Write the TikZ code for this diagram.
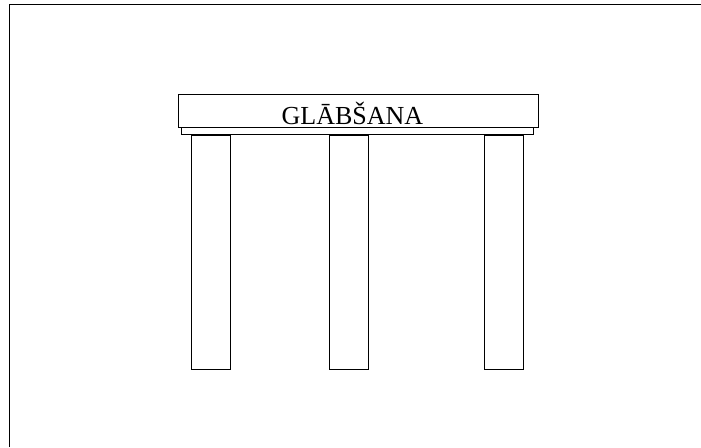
\documentclass[tikz,border=0pt]{standalone}
\usepackage{fontspec}
\setmainfont{Liberation Serif}
\usetikzlibrary{positioning}

\begin{document}
\begin{tikzpicture}[
  x=1pt, y=-1pt,
  frameline/.style={draw, line width=0.9pt},
  beam/.style={draw, line width=0.8pt, inner sep=0pt, minimum width=360pt, minimum height=33.5pt},
  capbar/.style={draw, line width=0.8pt, inner sep=0pt, minimum width=351.5pt, minimum height=7pt},
  pillar/.style={draw, line width=0.8pt, inner sep=0pt, minimum width=39pt, minimum height=234.5pt, anchor=north}
  ]
  \useasboundingbox (0,0) rectangle (701,447);
  % frame
  \coordinate (fb) at (9.5,447);
  \coordinate (ftl) at (9.5,4.5);
  \coordinate (fr) at (701,4.5);
  \draw[frameline] (fb) -- (ftl) -- (fr);
  % beam and bar
  \node[beam] (beam) at (358.3,111) {};
  \node[capbar] (bar) at (357.5,131.3) {};
  \node[font=\fontsize{26}{26}\selectfont, anchor=base, inner sep=0pt] (title) at (352.5,124) {GLĀBŠANA};
  % pillars
  \node[pillar] (colA) at (210.5,134.8) {};
  \node[pillar] (colB) at (348.5,134.8) {};
  \node[pillar] (colC) at (503.7,134.8) {};
\end{tikzpicture}
\end{document}
